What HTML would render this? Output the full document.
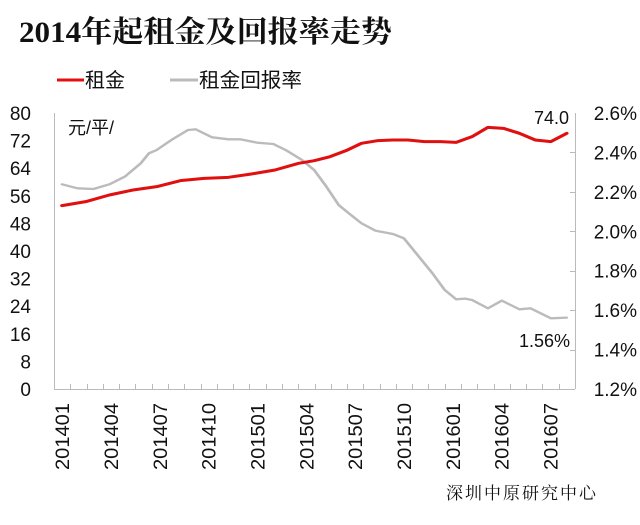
<!DOCTYPE html>
<html><head><meta charset="utf-8"><style>
body{margin:0;background:#fff;width:640px;height:520px;overflow:hidden}
svg text{font-family:"Liberation Sans","Noto Sans CJK SC",sans-serif;fill:#111}
</style></head><body>
<svg width="640" height="520" viewBox="0 0 640 520">
<text x="19" y="42" textLength="373" lengthAdjust="spacingAndGlyphs" style="font-family:'Liberation Serif','Noto Serif CJK SC',serif;font-size:30px;font-weight:bold">2014年起租金及回报率走势</text>
<line x1="57" y1="80" x2="84" y2="80" stroke="#e01010" stroke-width="3"/>
<text x="85" y="87" font-size="20">租金</text>
<line x1="170" y1="80" x2="198" y2="80" stroke="#bbb" stroke-width="3"/>
<text x="199" y="87" font-size="20" textLength="103" lengthAdjust="spacingAndGlyphs">租金回报率</text>
<g stroke="#bbb" stroke-width="1" fill="none">
<line x1="54.5" y1="113" x2="54.5" y2="389"/>
<line x1="54" y1="389.5" x2="575" y2="389.5"/>
<line x1="575.5" y1="113" x2="575.5" y2="389"/>
<g id="ticks"></g>
<g id="rticks"></g>
</g>
<g font-size="19" text-anchor="end" id="ly"></g>
<g font-size="19" text-anchor="end" id="ry"></g>
<text x="68" y="134" font-size="18">元/平/</text>
<text x="534" y="124" font-size="18">74.0</text>
<text x="519" y="347" font-size="18">1.56%</text>
<g id="xl" font-size="19"></g>
<g transform="translate(0,90) scale(0.408,0.3333)">
<polyline fill="none" stroke="#bbb" stroke-width="7" stroke-linejoin="round" stroke-linecap="round" points="152,283 190,295 229,297 268,283 306,260 345,220 365,190 384,180 420,150 461,120 480,118 520,142 560,148 590,148 630,158 670,162 700,180 740,210 770,240 800,290 830,345 860,375 886,400 920,422 963,432 990,445 1020,490 1060,550 1090,600 1118,628 1140,626 1157,630 1196,655 1230,632 1273,658 1300,655 1350,685 1389,683"/>
<polyline fill="none" stroke="#e01010" stroke-width="9" stroke-linejoin="round" stroke-linecap="round" points="152,347 210,335 268,315 326,300 384,290 442,272 500,265 560,262 616,252 674,240 732,220 770,212 809,200 848,182 886,160 925,152 963,150 1000,150 1040,155 1080,155 1118,157 1157,140 1196,112 1234,115 1273,130 1312,150 1350,155 1389,130"/>
</g>
<text x="446" y="499" style="font-family:'Noto Serif CJK SC',serif;font-size:17px;letter-spacing:2px">深圳中原研究中心</text>
</svg>
<script>
var ns="http://www.w3.org/2000/svg",t=document.getElementById("ticks"),w=(575-54)/32;
function mk(p,tag,a,txt){var e=document.createElementNS(ns,tag);for(var k in a)e.setAttribute(k,a[k]);if(txt)e.textContent=txt;p.appendChild(e);}
for(var i=1;i<32;i++){var x=Math.round(54+i*w)+0.5;mk(t,"line",{x1:x,x2:x,y1:384,y2:389});}
var r=document.getElementById("rticks");
for(var j=1;j<7;j++){var y=Math.round(113+j*39.43)+0.5;mk(r,"line",{x1:570,x2:575,y1:y,y2:y});}
var ly=document.getElementById("ly");
for(var j=0;j<=10;j++){mk(ly,"text",{x:31,y:113+j*27.6+7},String(80-8*j));}
var ry=document.getElementById("ry");
var rl=["2.6%","2.4%","2.2%","2.0%","1.8%","1.6%","1.4%","1.2%"];
for(var j=0;j<8;j++){mk(ry,"text",{x:637,y:113+j*39.43+7},rl[j]);}
var labs=["201401","201404","201407","201410","201501","201504","201507","201510","201601","201604","201607"],g=document.getElementById("xl");
labs.forEach(function(s,k){var x=54+(k*3+0.5)*w+7;mk(g,"text",{transform:"translate("+x+",470) rotate(-90)",textLength:67,lengthAdjust:"spacingAndGlyphs"},s);});
</script>
</body></html>
